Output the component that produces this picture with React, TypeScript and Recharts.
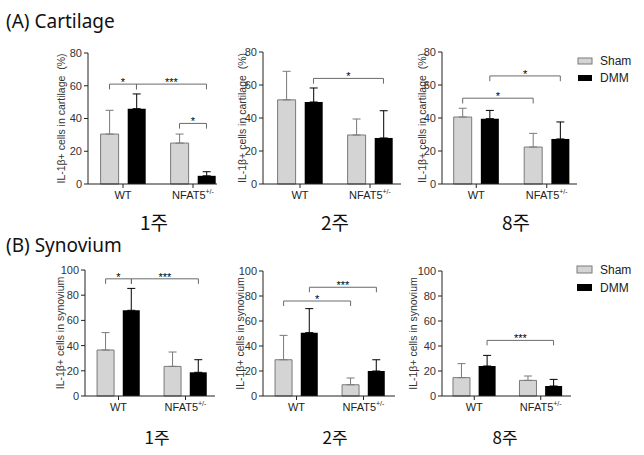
import React from "react";
import { Bar, BarChart, ErrorBar, ReferenceLine, XAxis, YAxis } from "recharts";

const groups = ["WT", "NFAT5"];
const groupSup = ["", "+/-"];
const weeks = ["1주", "2주", "8주"];
const seriesNames = ["Sham", "DMM"];

// (A) Cartilage, IL-1β+ cells (%). One row per week, [WT, NFAT5+/-].
const cartShamMean = [[30.5, 25.0], [51.0, 29.7], [40.6, 22.4]];
const cartShamSd = [[14.5, 5.5], [17.3, 9.7], [5.3, 8.3]];
const cartDmmMean = [[46.0, 5.0], [49.7, 27.9], [39.6, 27.3]];
const cartDmmSd = [[9.0, 2.5], [8.5, 16.5], [5.0, 10.3]];
const cartTicks = [0, 20, 40, 60, 80];

// (B) Synovium
const synShamMean = [[36.5, 23.5], [29.0, 9.0], [14.7, 12.5]];
const synShamSd = [[13.8, 11.4], [19.5, 5.4], [11.2, 3.5]];
const synDmmMean = [[68.0, 18.8], [50.7, 20.0], [24.0, 8.0]];
const synDmmSd = [[17.4, 10.0], [19.2, 9.0], [8.5, 5.3]];
const synTicks = [0, 20, 40, 60, 80, 100];

type Series = "sham" | "dmm";
interface Sig {
  from: [number, Series];
  to: [number, Series];
  y: number;
  mark: string;
}

// significance brackets per week
const cartSig: Sig[][] = [
  [
    { from: [0, "sham"], to: [0, "dmm"], y: 61, mark: "*" },
    { from: [0, "dmm"], to: [1, "dmm"], y: 61, mark: "***" },
    { from: [1, "sham"], to: [1, "dmm"], y: 37, mark: "*" },
  ],
  [{ from: [0, "dmm"], to: [1, "dmm"], y: 64, mark: "*" }],
  [
    { from: [0, "sham"], to: [1, "sham"], y: 52, mark: "*" },
    { from: [0, "dmm"], to: [1, "dmm"], y: 65.5, mark: "*" },
  ],
];
const synSig: Sig[][] = [
  [
    { from: [0, "sham"], to: [0, "dmm"], y: 93, mark: "*" },
    { from: [0, "dmm"], to: [1, "dmm"], y: 93, mark: "***" },
  ],
  [
    { from: [0, "sham"], to: [1, "sham"], y: 76, mark: "*" },
    { from: [0, "dmm"], to: [1, "dmm"], y: 87, mark: "***" },
  ],
  [{ from: [0, "dmm"], to: [1, "dmm"], y: 44.5, mark: "***" }],
];

const AX_FONT = "'Liberation Sans', Arial, sans-serif";
const SHAM_FILL = "#d4d4d4";
const SHAM_LINE = "#7a7a7a";
const BRACKET = "#6a6a6a";
const CAT_GAP = 0.18;
const BAR_GAP = 0.13;
const Y_AXIS_W = 50;
const M_TOP = 12;
const X_AXIS_H = 30;

// plot-area geometry of each panel, in page pixels
interface Box {
  left: number;
  top: number;
  bottom: number;
  right: number;
  padL: number;
  padR: number;
  labelDx: number;
}
const cartBoxes: Box[] = [
  { left: 88, top: 53, bottom: 184, right: 217, padL: 0, padR: -11, labelDx: 27 },
  { left: 263, top: 52, bottom: 184, right: 401, padL: 2, padR: -4, labelDx: 21 },
  { left: 442, top: 52, bottom: 184, right: 577, padL: -1, padR: -5, labelDx: 20 },
];
const synBoxes: Box[] = [
  { left: 85, top: 270, bottom: 396, right: 215, padL: 0, padR: -4, labelDx: 25 },
  { left: 263, top: 271, bottom: 396, right: 395, padL: 0, padR: -2, labelDx: 23 },
  { left: 442, top: 271, bottom: 396, right: 571, padL: -1, padR: -3, labelDx: 29 },
];

// group i is centred at i + 0.5 on a numeric axis that runs 0..groups.length
const groupPos = groups.map((_, i) => i + 0.5);
const barFrac = (1 - 2 * CAT_GAP - BAR_GAP) / 2;
function barCenter(group: number, s: Series) {
  const shift = (barFrac + BAR_GAP) / 2;
  return groupPos[group] + (s === "dmm" ? shift : -shift);
}

function GroupTick(props: any) {
  const { x, y, payload } = props;
  const i = groupPos.indexOf(payload.value);
  return (
    <text x={x} y={y + 9} textAnchor="middle" fontSize={11} fill="#222" fontFamily={AX_FONT}>
      {groups[i]}
      {groupSup[i] ? (
        <tspan fontSize={7} dy={-5}>
          {groupSup[i]}
        </tspan>
      ) : null}
    </text>
  );
}

const starLabel = (mark: string) => (p: any) => {
  const vb = p.viewBox || {};
  const cx = (vb.x ?? 0) + (vb.width ?? 0) / 2;
  const cy = vb.y ?? 0;
  return (
    <text x={cx} y={cy + 2} textAnchor="middle" fontSize={11} fill="#000" fontFamily={AX_FONT}>
      {mark}
    </text>
  );
};

interface PanelProps {
  box: Box;
  sham: number[];
  shamSd: number[];
  dmm: number[];
  dmmSd: number[];
  sig: Sig[];
  yMax: number;
  ticks: number[];
  yLabel: string;
}

function Panel({ box, sham, shamSd, dmm, dmmSd, sig, yMax, ticks, yLabel }: PanelProps) {
  const data = groups.map((g, i) => ({
    group: g,
    pos: groupPos[i],
    sham: sham[i],
    shamSd: shamSd[i],
    dmm: dmm[i],
    dmmSd: dmmSd[i],
  }));
  const chartLeft = box.left - Y_AXIS_W;
  const chartTop = box.top - M_TOP;
  const width = box.right - chartLeft + 10;
  const height = box.bottom - chartTop + X_AXIS_H;
  const drop = yMax * 0.04;

  const renderYLabel = (p: any) => {
    const vb = p.viewBox || {};
    const cx = (vb.x ?? 0) + (vb.width ?? Y_AXIS_W) - box.labelDx;
    const cy = (vb.y ?? M_TOP) + (vb.height ?? 0) / 2;
    return (
      <text
        x={cx}
        y={cy}
        transform={`rotate(-90, ${cx}, ${cy})`}
        textAnchor="middle"
        dominantBaseline="central"
        fontSize={10.5}
        fill="#333"
        fontFamily={AX_FONT}
        style={{ whiteSpace: "pre" }}
      >
        {yLabel}
      </text>
    );
  };

  return (
    <div style={{ position: "absolute", left: chartLeft, top: chartTop }}>
      <BarChart
        width={width}
        height={height}
        data={data}
        margin={{ top: M_TOP, right: 10, bottom: 0, left: 0 }}
        barCategoryGap={`${CAT_GAP * 100}%`}
        barGap={`${BAR_GAP * 100}%`}
      >
        <XAxis
          dataKey="pos"
          type="number"
          domain={[0, groups.length]}
          allowDataOverflow
          ticks={groupPos}
          padding={{ left: box.padL, right: box.padR }}
          height={X_AXIS_H}
          tickSize={4}
          tickMargin={2}
          interval={0}
          axisLine={{ stroke: "#222" }}
          tickLine={{ stroke: "#222" }}
          tick={(p: any) => <GroupTick {...p} />}
        />
        <YAxis
          domain={[0, yMax]}
          ticks={ticks}
          interval={0}
          width={Y_AXIS_W}
          tickSize={4}
          tickMargin={2}
          axisLine={{ stroke: "#222" }}
          tickLine={{ stroke: "#222" }}
          tick={{ fontSize: 11, fill: "#333", fontFamily: AX_FONT }}
          label={{ content: renderYLabel }}
        />
        <Bar
          dataKey="sham"
          name={seriesNames[0]}
          fill={SHAM_FILL}
          stroke={SHAM_LINE}
          strokeWidth={1}
          isAnimationActive={false}
        >
          <ErrorBar
            dataKey={(d: any) => [0, d.shamSd]}
            direction="y"
            width={4}
            stroke={SHAM_LINE}
            strokeWidth={1}
            isAnimationActive={false}
          />
        </Bar>
        <Bar dataKey="dmm" name={seriesNames[1]} fill="#000" isAnimationActive={false}>
          <ErrorBar
            dataKey={(d: any) => [0, d.dmmSd]}
            direction="y"
            width={4}
            stroke="#000"
            strokeWidth={1}
            isAnimationActive={false}
          />
        </Bar>
        {sig.map((s, k) => {
          const x1 = barCenter(s.from[0], s.from[1]);
          const x2 = barCenter(s.to[0], s.to[1]);
          const y0 = s.y - drop;
          return [
            <ReferenceLine
              key={`h${k}`}
              segment={[
                { x: x1, y: s.y },
                { x: x2, y: s.y },
              ]}
              stroke={BRACKET}
              strokeWidth={1}
              ifOverflow="visible"
              label={{ content: starLabel(s.mark) }}
            />,
            <ReferenceLine
              key={`l${k}`}
              segment={[
                { x: x1, y: s.y },
                { x: x1, y: y0 },
              ]}
              stroke={BRACKET}
              strokeWidth={1}
              ifOverflow="visible"
            />,
            <ReferenceLine
              key={`r${k}`}
              segment={[
                { x: x2, y: s.y },
                { x: x2, y: y0 },
              ]}
              stroke={BRACKET}
              strokeWidth={1}
              ifOverflow="visible"
            />,
          ];
        })}
      </BarChart>
    </div>
  );
}

function LegendBox({ x, y, sw, sh, gap }: { x: number; y: number; sw: number; sh: number; gap: number }) {
  return (
    <g fontFamily={AX_FONT} fontSize={12} fill="#222">
      <rect x={x} y={y} width={sw} height={sh} fill={SHAM_FILL} stroke={SHAM_LINE} />
      <text x={x + sw + 8} y={y + sh / 2 + 4}>
        {seriesNames[0]}
      </text>
      <rect x={x} y={y + gap} width={sw} height={sh} fill="#000" />
      <text x={x + sw + 8} y={y + gap + sh / 2 + 4}>
        {seriesNames[1]}
      </text>
    </g>
  );
}

const weekCentersA = [154, 335, 516];
const weekCentersB = [157, 335, 505];

export default function App() {
  return (
    <div
      style={{
        position: "absolute",
        left: 0,
        top: 0,
        width: 644,
        height: 455,
        background: "#fff",
        overflow: "hidden",
      }}
    >
      <svg width={644} height={455} style={{ position: "absolute", left: 0, top: 0 }}>
        <text x={6} y={28} fontSize={19} fill="#111" fontFamily="'Noto Sans', sans-serif">
          (A) Cartilage
        </text>
        <text x={6} y={252} fontSize={19} fill="#111" fontFamily="'Noto Sans', sans-serif">
          (B) Synovium
        </text>
        {weeks.map((w, i) => (
          <text
            key={`a${w}`}
            x={weekCentersA[i]}
            y={230}
            textAnchor="middle"
            fontSize={19}
            fill="#111"
            fontFamily="'Noto Sans CJK KR', sans-serif"
          >
            {w}
          </text>
        ))}
        {weeks.map((w, i) => (
          <text
            key={`b${w}`}
            x={weekCentersB[i]}
            y={444}
            textAnchor="middle"
            fontSize={17}
            fill="#111"
            fontFamily="'Noto Sans CJK KR', sans-serif"
          >
            {w}
          </text>
        ))}
        <LegendBox x={578} y={58} sw={14} sh={6} gap={17} />
        <LegendBox x={577} y={266} sw={15} sh={7} gap={18} />
      </svg>
      {cartBoxes.map((b, i) => (
        <Panel
          key={`cart${i}`}
          box={b}
          sham={cartShamMean[i]}
          shamSd={cartShamSd[i]}
          dmm={cartDmmMean[i]}
          dmmSd={cartDmmSd[i]}
          sig={cartSig[i]}
          yMax={80}
          ticks={cartTicks}
          yLabel="IL-1β+ cells in cartilage  (%)"
        />
      ))}
      {synBoxes.map((b, i) => (
        <Panel
          key={`syn${i}`}
          box={b}
          sham={synShamMean[i]}
          shamSd={synShamSd[i]}
          dmm={synDmmMean[i]}
          dmmSd={synDmmSd[i]}
          sig={synSig[i]}
          yMax={100}
          ticks={synTicks}
          yLabel="IL-1β+ cells in synovium"
        />
      ))}
    </div>
  );
}
